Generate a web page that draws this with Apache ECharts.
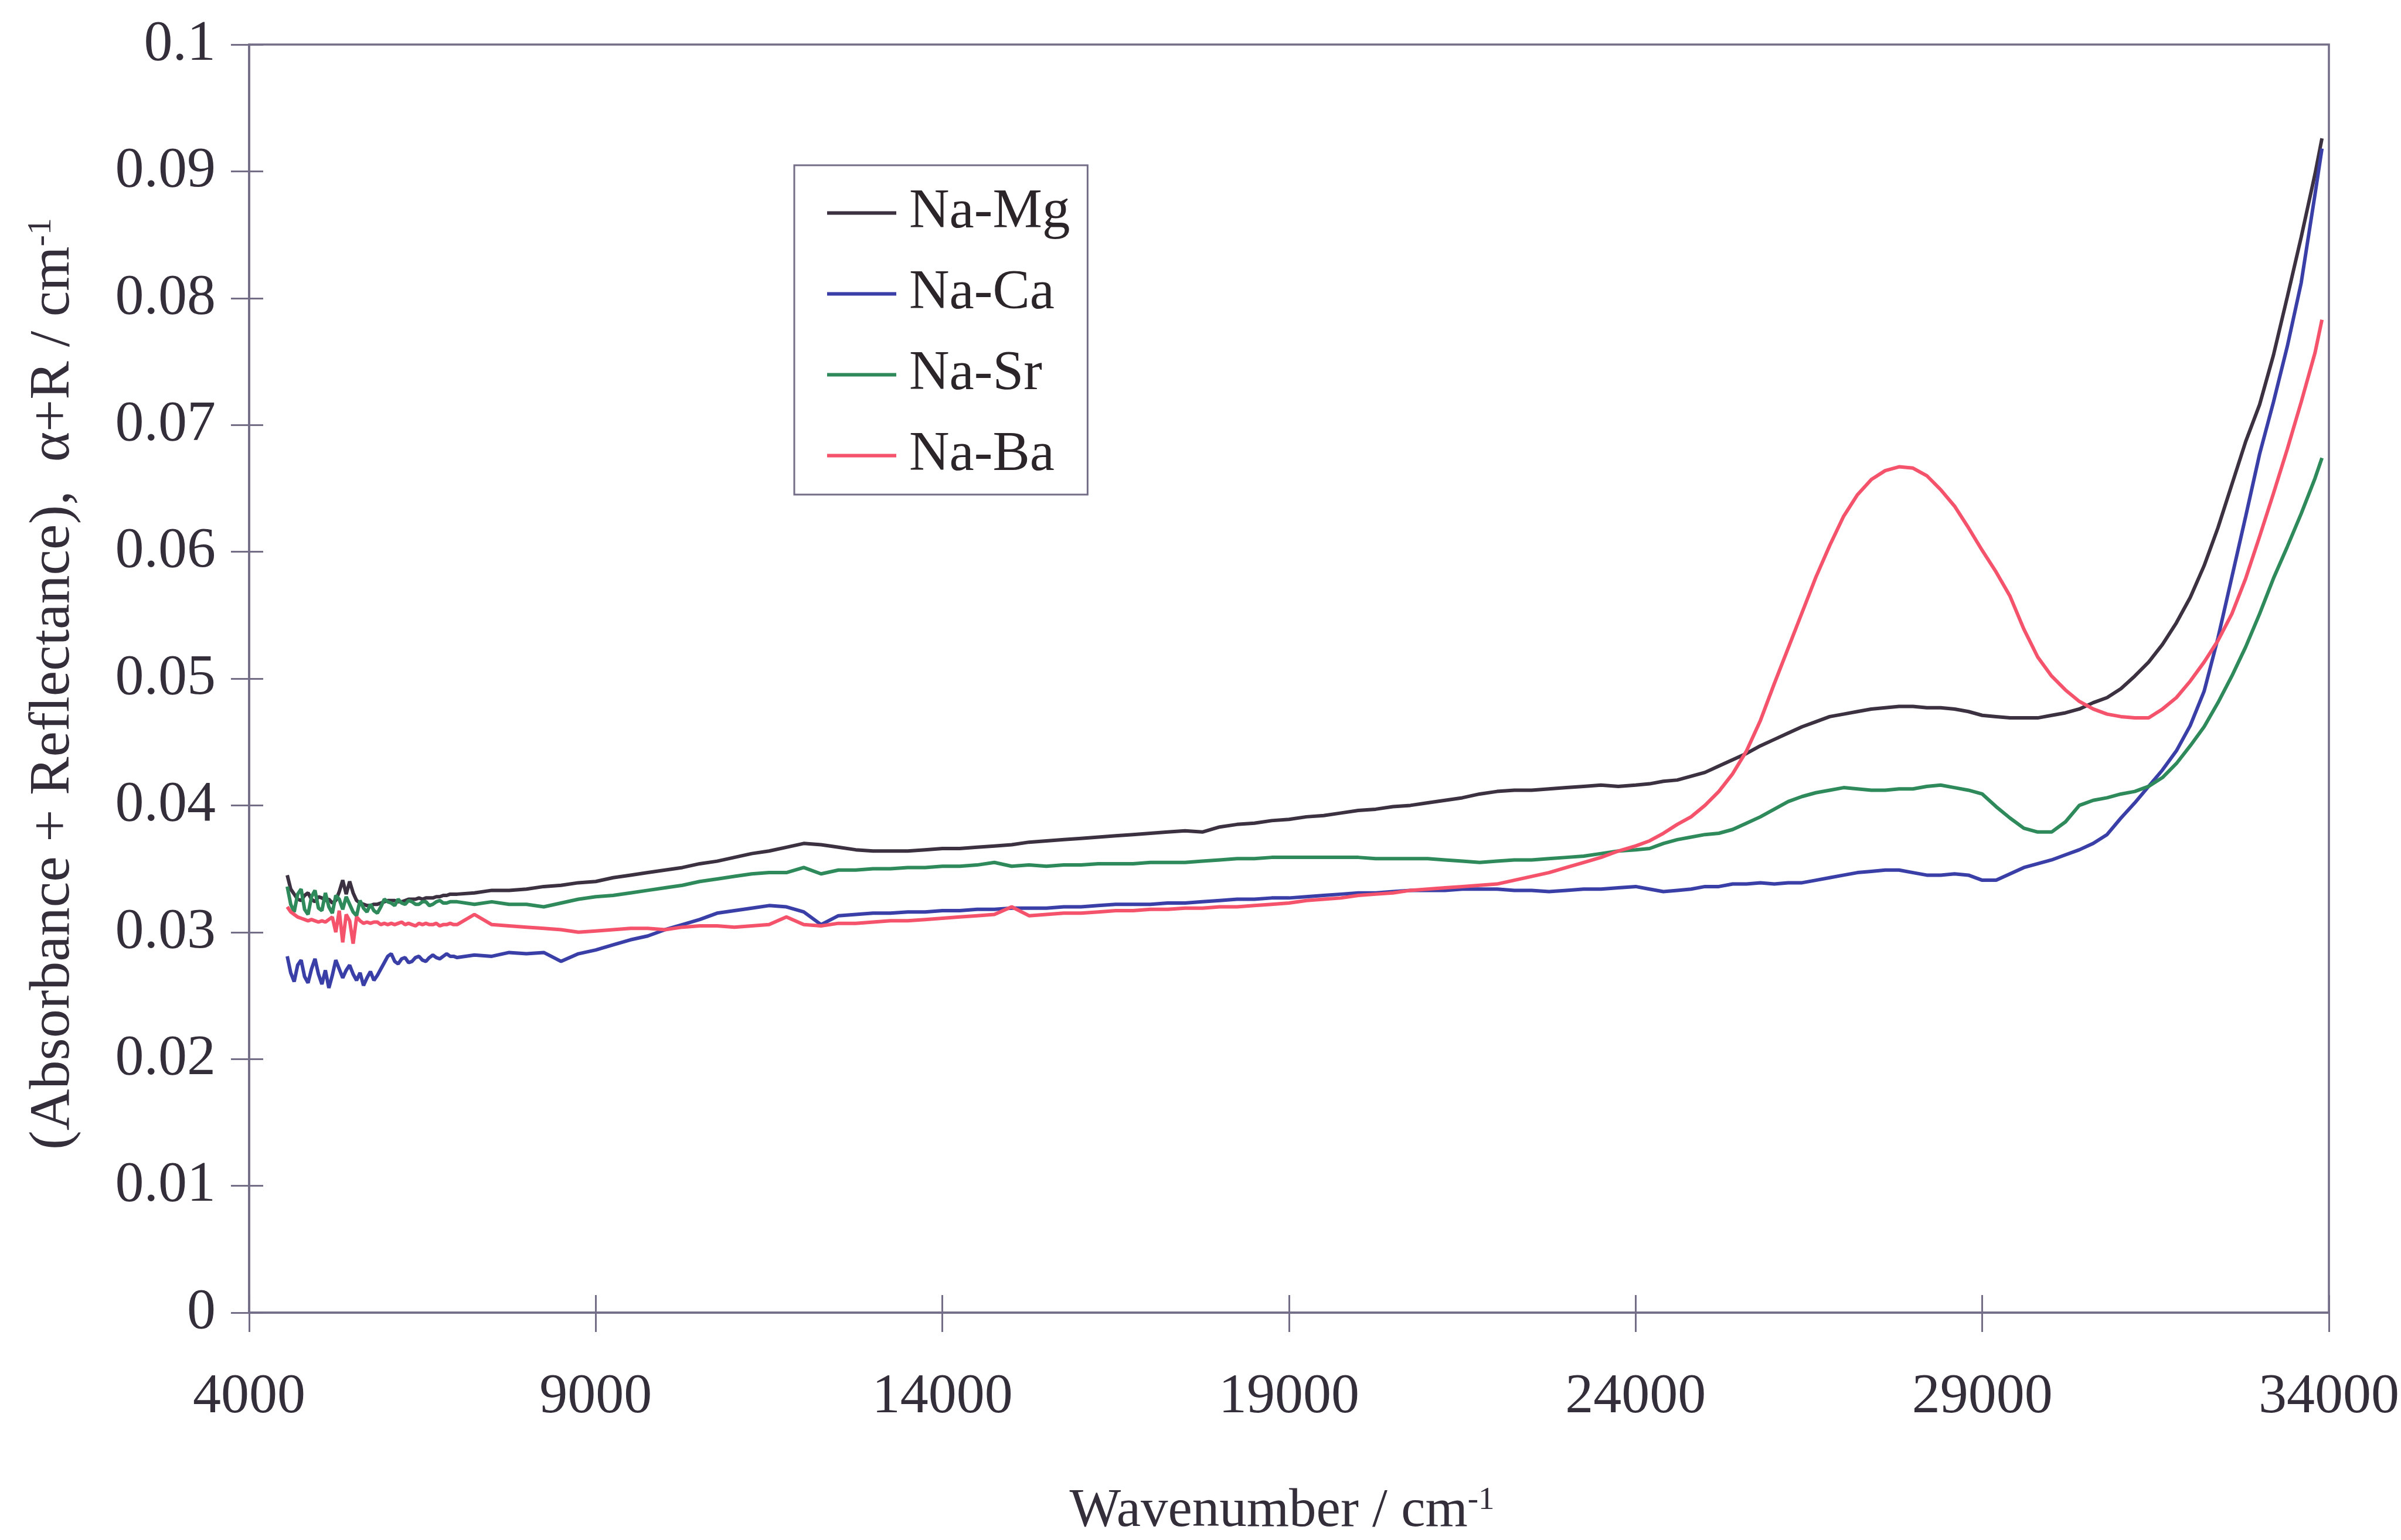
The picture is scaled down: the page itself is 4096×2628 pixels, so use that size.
<!DOCTYPE html>
<html>
<head>
<meta charset="utf-8">
<title>Absorbance + Reflectance spectra</title>
<script src="https://cdn.jsdelivr.net/npm/echarts@6/dist/echarts.min.js"></script>
<style>
  html, body { margin: 0; padding: 0; background: #ffffff; }
  #chart { width: 4096px; height: 2628px; }
</style>
</head>
<body>
<div id="chart"></div>
<script>
// Wavenumber grid (cm^-1) shared by all four spectra
const wavenumber = [
  4550, 4600, 4650, 4700, 4750, 4800, 4850, 4900, 4950, 5000,
  5050, 5100, 5150, 5200, 5250, 5300, 5350, 5400, 5450, 5500,
  5550, 5600, 5650, 5700, 5750, 5800, 5850, 5900, 5950, 6000,
  6050, 6100, 6150, 6200, 6250, 6300, 6350, 6400, 6450, 6500,
  6550, 6600, 6650, 6700, 6750, 6800, 6850, 6900, 6950,
  7000, 7250, 7500, 7750, 8000, 8250, 8500, 8750, 9000, 9250, 9500, 9750, 10000, 10250, 10500,
  10750, 11000, 11250, 11500, 11750, 12000,
  12250, 12500, 12750, 13000, 13250, 13500, 13750, 14000, 14250, 14500, 14750, 15000, 15250,
  15500, 15750, 16000, 16250, 16500, 16750, 17000,
  17250, 17500, 17750, 18000, 18250, 18500, 18750, 19000, 19250, 19500, 19750, 20000, 20250,
  20500, 20750, 21000, 21250, 21500, 21750, 22000,
  22250, 22500, 22750, 23000, 23250, 23500, 23750, 24000,
  24200, 24400, 24600, 24800, 25000, 25200, 25400, 25600, 25800, 26000,
  26200, 26400, 26600, 26800, 27000, 27200, 27400, 27600, 27800, 28000,
  28200, 28400, 28600, 28800, 29000, 29200, 29400, 29600, 29800, 30000,
  30200, 30400, 30600, 30800, 31000, 31200, 31400, 31600, 31800, 32000,
  32200, 32400, 32600, 32800, 33000, 33200, 33400, 33600, 33800, 33900
];

// alpha + R (cm^-1) for each glass
const naMg = [
  0.0345, 0.0334, 0.0330, 0.0326, 0.0325, 0.0329, 0.0331, 0.0326, 0.0324, 0.0328,
  0.0327, 0.0325, 0.0326, 0.0323, 0.0325, 0.0332, 0.0341, 0.0330, 0.0340, 0.0331,
  0.0325, 0.0323, 0.0322, 0.0321, 0.0321, 0.0322, 0.0322, 0.0323, 0.0324, 0.0325,
  0.0325, 0.0325, 0.0324, 0.0324, 0.0325, 0.0326, 0.0326, 0.0326, 0.0327, 0.0326,
  0.0327, 0.0327, 0.0327, 0.0328, 0.0328, 0.0329, 0.0329, 0.0330, 0.0330,
  0.0330, 0.0331, 0.0333, 0.0333, 0.0334, 0.0336, 0.0337, 0.0339, 0.0340, 0.0343, 0.0345, 0.0347, 0.0349, 0.0351, 0.0354,
  0.0356, 0.0359, 0.0362, 0.0364, 0.0367, 0.0370,
  0.0369, 0.0367, 0.0365, 0.0364, 0.0364, 0.0364, 0.0365, 0.0366, 0.0366, 0.0367, 0.0368, 0.0369, 0.0371,
  0.0372, 0.0373, 0.0374, 0.0375, 0.0376, 0.0377, 0.0378,
  0.0379, 0.0380, 0.0379, 0.0383, 0.0385, 0.0386, 0.0388, 0.0389, 0.0391, 0.0392, 0.0394, 0.0396, 0.0397,
  0.0399, 0.0400, 0.0402, 0.0404, 0.0406, 0.0409, 0.0411,
  0.0412, 0.0412, 0.0413, 0.0414, 0.0415, 0.0416, 0.0415, 0.0416,
  0.0417, 0.0419, 0.0420, 0.0423, 0.0426, 0.0431, 0.0436, 0.0441, 0.0447, 0.0452,
  0.0457, 0.0462, 0.0466, 0.0470, 0.0472, 0.0474, 0.0476, 0.0477, 0.0478, 0.0478,
  0.0477, 0.0477, 0.0476, 0.0474, 0.0471, 0.0470, 0.0469, 0.0469, 0.0469, 0.0471,
  0.0473, 0.0476, 0.0481, 0.0485, 0.0492, 0.0502, 0.0513, 0.0527, 0.0544, 0.0564,
  0.0589, 0.0619, 0.0653, 0.0687, 0.0716, 0.0755, 0.0801, 0.0848, 0.0898, 0.0926
];

const naCa = [
  0.0281, 0.0268, 0.0261, 0.0274, 0.0278, 0.0265, 0.0260, 0.0271, 0.0279, 0.0267,
  0.0259, 0.0270, 0.0256, 0.0266, 0.0278, 0.0271, 0.0264, 0.0270, 0.0274, 0.0267,
  0.0262, 0.0268, 0.0258, 0.0264, 0.0269, 0.0262, 0.0266, 0.0271, 0.0276, 0.0281,
  0.0283, 0.0277, 0.0275, 0.0279, 0.0280, 0.0276, 0.0277, 0.0280, 0.0281, 0.0278,
  0.0277, 0.0280, 0.0282, 0.0280, 0.0279, 0.0281, 0.0283, 0.0281, 0.0281,
  0.0280, 0.0282, 0.0281, 0.0284, 0.0283, 0.0284, 0.0277, 0.0283, 0.0286, 0.0290, 0.0294, 0.0297, 0.0302, 0.0306, 0.0310,
  0.0315, 0.0317, 0.0319, 0.0321, 0.0320, 0.0316,
  0.0306, 0.0313, 0.0314, 0.0315, 0.0315, 0.0316, 0.0316, 0.0317, 0.0317, 0.0318, 0.0318, 0.0319, 0.0319,
  0.0319, 0.0320, 0.0320, 0.0321, 0.0322, 0.0322, 0.0322,
  0.0323, 0.0323, 0.0324, 0.0325, 0.0326, 0.0326, 0.0327, 0.0327, 0.0328, 0.0329, 0.0330, 0.0331, 0.0331,
  0.0332, 0.0333, 0.0333, 0.0333, 0.0334, 0.0334, 0.0334,
  0.0333, 0.0333, 0.0332, 0.0333, 0.0334, 0.0334, 0.0335, 0.0336,
  0.0334, 0.0332, 0.0333, 0.0334, 0.0336, 0.0336, 0.0338, 0.0338, 0.0339, 0.0338,
  0.0339, 0.0339, 0.0341, 0.0343, 0.0345, 0.0347, 0.0348, 0.0349, 0.0349, 0.0347,
  0.0345, 0.0345, 0.0346, 0.0345, 0.0341, 0.0341, 0.0346, 0.0351, 0.0354, 0.0357,
  0.0361, 0.0365, 0.0370, 0.0377, 0.0390, 0.0402, 0.0415, 0.0428, 0.0443, 0.0463,
  0.0490, 0.0532, 0.0580, 0.0628, 0.0677, 0.0718, 0.0762, 0.0812, 0.0882, 0.0918
];

const naSr = [
  0.0336, 0.0322, 0.0316, 0.0330, 0.0334, 0.0318, 0.0314, 0.0328, 0.0333, 0.0319,
  0.0317, 0.0331, 0.0320, 0.0315, 0.0329, 0.0326, 0.0318, 0.0328, 0.0322, 0.0316,
  0.0313, 0.0325, 0.0319, 0.0316, 0.0322, 0.0317, 0.0315, 0.0320, 0.0326, 0.0324,
  0.0323, 0.0321, 0.0326, 0.0323, 0.0322, 0.0325, 0.0324, 0.0322, 0.0322, 0.0324,
  0.0324, 0.0321, 0.0322, 0.0324, 0.0325, 0.0323, 0.0323, 0.0324, 0.0324,
  0.0324, 0.0322, 0.0324, 0.0322, 0.0322, 0.0320, 0.0323, 0.0326, 0.0328, 0.0329, 0.0331, 0.0333, 0.0335, 0.0337, 0.0340,
  0.0342, 0.0344, 0.0346, 0.0347, 0.0347, 0.0351,
  0.0346, 0.0349, 0.0349, 0.0350, 0.0350, 0.0351, 0.0351, 0.0352, 0.0352, 0.0353, 0.0355, 0.0352, 0.0353,
  0.0352, 0.0353, 0.0353, 0.0354, 0.0354, 0.0354, 0.0355,
  0.0355, 0.0355, 0.0356, 0.0357, 0.0358, 0.0358, 0.0359, 0.0359, 0.0359, 0.0359, 0.0359, 0.0359, 0.0358,
  0.0358, 0.0358, 0.0358, 0.0357, 0.0356, 0.0355, 0.0356,
  0.0357, 0.0357, 0.0358, 0.0359, 0.0360, 0.0362, 0.0364, 0.0365,
  0.0366, 0.0370, 0.0373, 0.0375, 0.0377, 0.0378, 0.0381, 0.0386, 0.0391, 0.0397,
  0.0403, 0.0407, 0.0410, 0.0412, 0.0414, 0.0413, 0.0412, 0.0412, 0.0413, 0.0413,
  0.0415, 0.0416, 0.0414, 0.0412, 0.0409, 0.0399, 0.0390, 0.0382, 0.0379, 0.0379,
  0.0387, 0.0400, 0.0404, 0.0406, 0.0409, 0.0411, 0.0415, 0.0422, 0.0433, 0.0447,
  0.0462, 0.0481, 0.0502, 0.0525, 0.0551, 0.0579, 0.0604, 0.0630, 0.0658, 0.0674
];

const naBa = [
  0.0320, 0.0316, 0.0314, 0.0312, 0.0311, 0.0310, 0.0309, 0.0310, 0.0309, 0.0308,
  0.0309, 0.0308, 0.0310, 0.0312, 0.0300, 0.0317, 0.0292, 0.0314, 0.0309, 0.0291,
  0.0312, 0.0309, 0.0307, 0.0308, 0.0307, 0.0308, 0.0308, 0.0306, 0.0307, 0.0306,
  0.0307, 0.0306, 0.0307, 0.0308, 0.0306, 0.0307, 0.0306, 0.0305, 0.0307, 0.0306,
  0.0307, 0.0306, 0.0306, 0.0307, 0.0305, 0.0306, 0.0306, 0.0307, 0.0306,
  0.0306, 0.0314, 0.0306, 0.0305, 0.0304, 0.0303, 0.0302, 0.0300, 0.0301, 0.0302, 0.0303, 0.0303, 0.0302, 0.0304, 0.0305,
  0.0305, 0.0304, 0.0305, 0.0306, 0.0312, 0.0306,
  0.0305, 0.0307, 0.0307, 0.0308, 0.0309, 0.0309, 0.0310, 0.0311, 0.0312, 0.0313, 0.0314, 0.0320, 0.0313,
  0.0314, 0.0315, 0.0315, 0.0316, 0.0317, 0.0317, 0.0318,
  0.0318, 0.0319, 0.0319, 0.0320, 0.0320, 0.0321, 0.0322, 0.0323, 0.0325, 0.0326, 0.0327, 0.0329, 0.0330,
  0.0331, 0.0333, 0.0334, 0.0335, 0.0336, 0.0337, 0.0338,
  0.0341, 0.0344, 0.0347, 0.0351, 0.0355, 0.0359, 0.0364, 0.0368,
  0.0372, 0.0378, 0.0385, 0.0391, 0.0400, 0.0411, 0.0425, 0.0443, 0.0467, 0.0496,
  0.0524, 0.0552, 0.0580, 0.0605, 0.0628, 0.0645, 0.0657, 0.0664, 0.0667, 0.0666,
  0.0660, 0.0649, 0.0636, 0.0619, 0.0601, 0.0584, 0.0565, 0.0539, 0.0517, 0.0502,
  0.0491, 0.0482, 0.0476, 0.0472, 0.0470, 0.0469, 0.0469, 0.0476, 0.0485, 0.0498,
  0.0513, 0.0530, 0.0551, 0.0579, 0.0612, 0.0646, 0.0681, 0.0718, 0.0757, 0.0783
];

const seriesNames = ['Na-Mg', 'Na-Ca', 'Na-Sr', 'Na-Ba'];
const seriesValues = [naMg, naCa, naSr, naBa];
const seriesColors = ['#3b3140', '#3a3fa8', '#2e8a5a', '#f4536b'];

// axis ranges
const xMin = 4000, xMax = 34000, xStep = 5000;
const yMin = 0, yMax = 0.1, yStep = 0.01;

const serifFont = "'Liberation Serif', 'DejaVu Serif', 'Times New Roman', serif";
const frameColor = '#736d88';
const textColor = '#342d3a';

const chart = echarts.init(document.getElementById('chart'), null, { renderer: 'canvas' });

const gridBox = { left: 425, top: 76, width: 3557, height: 2164 };

const series = seriesNames.map((name, k) => ({
  name: name,
  type: 'line',
  xAxisIndex: 0,
  yAxisIndex: 0,
  data: wavenumber.map((w, i) => [w, seriesValues[k][i]]),
  symbol: 'none',
  showSymbol: false,
  smooth: false,
  lineStyle: { color: seriesColors[k], width: 6 },
  itemStyle: { color: seriesColors[k] },
  z: 3 + k
}));

const option = {
  animation: false,
  backgroundColor: '#ffffff',
  grid: {
    left: gridBox.left, top: gridBox.top, width: gridBox.width, height: gridBox.height,
    show: true, borderColor: frameColor, borderWidth: 3.5, backgroundColor: 'transparent'
  },
  legend: {
    orient: 'vertical',
    left: 1355,
    top: 282,
    data: seriesNames.map((n, k) => ({ name: n, icon: 'rect', itemStyle: { color: seriesColors[k] } })),
    selectedMode: false,
    itemWidth: 118,
    itemHeight: 6,
    itemGap: 43,
    padding: [34, 30, 19, 56],
    borderColor: frameColor,
    borderWidth: 3,
    backgroundColor: '#ffffff',
    textStyle: {
      fontFamily: serifFont,
      fontSize: 95,
      lineHeight: 95,
      color: '#2b2429',
      padding: [0, 0, 0, 17]
    }
  },
  xAxis: [
    {
      type: 'value', min: xMin, max: xMax, interval: xStep, position: 'bottom',
      axisLine: { show: true, onZero: false, lineStyle: { color: frameColor, width: 3.5 } },
      axisTick: { show: true, inside: false, length: 33, lineStyle: { color: frameColor, width: 3 } },
      axisLabel: {
        show: true, margin: 97, fontFamily: serifFont, fontSize: 96, lineHeight: 96, color: textColor,
        formatter: v => String(v)
      },
      splitLine: { show: false }
    },
    {
      type: 'value', min: xMin, max: xMax, interval: xStep, position: 'bottom',
      axisLine: { show: false, onZero: false },
      axisTick: { show: true, inside: true, length: 30, lineStyle: { color: frameColor, width: 3 } },
      axisLabel: { show: false },
      splitLine: { show: false }
    }
  ],
  yAxis: [
    {
      type: 'value', min: yMin, max: yMax, interval: yStep, position: 'left',
      axisLine: { show: true, onZero: false, lineStyle: { color: frameColor, width: 3.5 } },
      axisTick: { show: true, inside: false, length: 31, lineStyle: { color: frameColor, width: 3 } },
      axisLabel: {
        show: true, margin: 57, fontFamily: serifFont, fontSize: 98, color: textColor,
        formatter: v => String(+v.toFixed(2))
      },
      splitLine: { show: false }
    },
    {
      type: 'value', min: yMin, max: yMax, interval: yStep, position: 'left',
      axisLine: { show: false, onZero: false },
      axisTick: { show: true, inside: true, length: 24, lineStyle: { color: frameColor, width: 3 } },
      axisLabel: { show: false },
      splitLine: { show: false }
    }
  ],
  graphic: [
    {
      // x-axis title
      type: 'text',
      x: 2187,
      y: 2580,
      style: {
        text: '{m|Wavenumber / cm}{s|-1}',
        align: 'center',
        verticalAlign: 'middle',
        fill: textColor,
        rich: {
          m: { fontFamily: serifFont, fontSize: 93, lineHeight: 93, fill: textColor },
          s: { fontFamily: serifFont, fontSize: 55, lineHeight: 20, verticalAlign: 'top', fill: textColor }
        }
      }
    },
    {
      // y-axis title, reading bottom to top
      type: 'text',
      x: 91,
      y: 1167,
      rotation: Math.PI / 2,
      style: {
        text: '{m|(Absorbance + Reflectance),  \u03b1+R / cm}{s|-1}',
        align: 'center',
        verticalAlign: 'middle',
        fill: textColor,
        rich: {
          m: { fontFamily: serifFont, fontSize: 98, lineHeight: 98, fill: textColor },
          s: { fontFamily: serifFont, fontSize: 58, lineHeight: 20, verticalAlign: 'top', fill: textColor }
        }
      }
    }
  ],
  series: series
};

chart.setOption(option);
</script>
</body>
</html>
